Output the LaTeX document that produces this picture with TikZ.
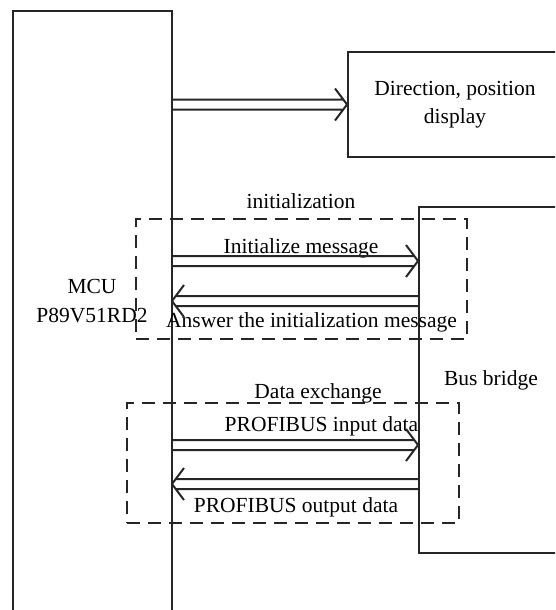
\documentclass[tikz,border=0pt]{standalone}
\usepackage{fontspec}
\setmainfont{Liberation Serif}
\usetikzlibrary{positioning,calc}
\definecolor{linegray}{rgb}{0.15,0.15,0.15}
\tikzset{
  block/.style ={ rectangle, draw=linegray, line width=2pt, inner sep=0pt, align=center,
                  font=\fontsize{21.5}{28}\selectfont },
  group/.style ={ rectangle, draw=linegray, line width=2pt, inner sep=0pt,
                  dash pattern=on 13pt off 8pt },
  lbl/.style   ={ font=\fontsize{21.5}{29}\selectfont, inner sep=0pt, anchor=base },
% hollow horizontal arrow: two shaft lines and an open head
  hollow/.style={ draw=linegray, line width=2pt, line join=miter,
                  to path={let \p1=(\tikztostart), \p2=(\tikztotarget),
                           \n1={(\x2>\x1)*2-1} in
                    (\x1,\y1+5pt) -- (\x2-\n1*4pt,\y1+5pt)
                    (\x1,\y1-5pt) -- (\x2-\n1*4pt,\y1-5pt)
                    (\x2-\n1*12pt,\y1+16pt) -- (\x2,\y1) -- (\x2-\n1*12pt,\y1-16pt)} }
}

\begin{document}
\begin{tikzpicture}[x=1pt,y=-1pt]
\path[use as bounding box] (0,0) rectangle (555,610);
\clip (0,0) rectangle (555,610);

\node[block, minimum width=159pt, minimum height=660pt] (mcu) at (92.5,341) {};
\node[block, minimum width=214pt, minimum height=105pt] (disp) at (455,104.5) {Direction, position\\display};
\node[block, minimum width=144pt, minimum height=346pt] (bridge) at (491,380) {Bus bridge};
\node[lbl, anchor=center, align=center] (mcutxt) at (92,301) {MCU\\P89V51RD2};

\node[group, minimum width=331pt, minimum height=120pt] (initgrp) at (301.5,279) {};
\node[group, minimum width=332pt, minimum height=120pt] (dxgrp) at (293,463) {};

\node[lbl] (initlbl) at (301,208) {initialization};
\node[lbl] (reqlbl)  at (301,253) {Initialize message};
\node[lbl] (anslbl)  at (311.5,327) {Answer the initialization message};
\node[lbl] (dxlbl)   at (318,398) {Data exchange};
\node[lbl] (inlbl)   at (321.5,431) {PROFIBUS input data};
\node[lbl] (outlbl)  at (296,512) {PROFIBUS output data};

\coordinate (req) at (172,261);
\coordinate (ans) at (172,301);
\coordinate (din) at (172,445);
\coordinate (dout) at (172,484);

\draw[hollow] (mcu.east |- disp.west) to (disp.west);
\draw[hollow] (req) to (req -| bridge.west);
\draw[hollow] (ans -| bridge.west) to (ans);
\draw[hollow] (din) to (din -| bridge.west);
\draw[hollow] (dout -| bridge.west) to (dout);

\end{tikzpicture}
\end{document}
